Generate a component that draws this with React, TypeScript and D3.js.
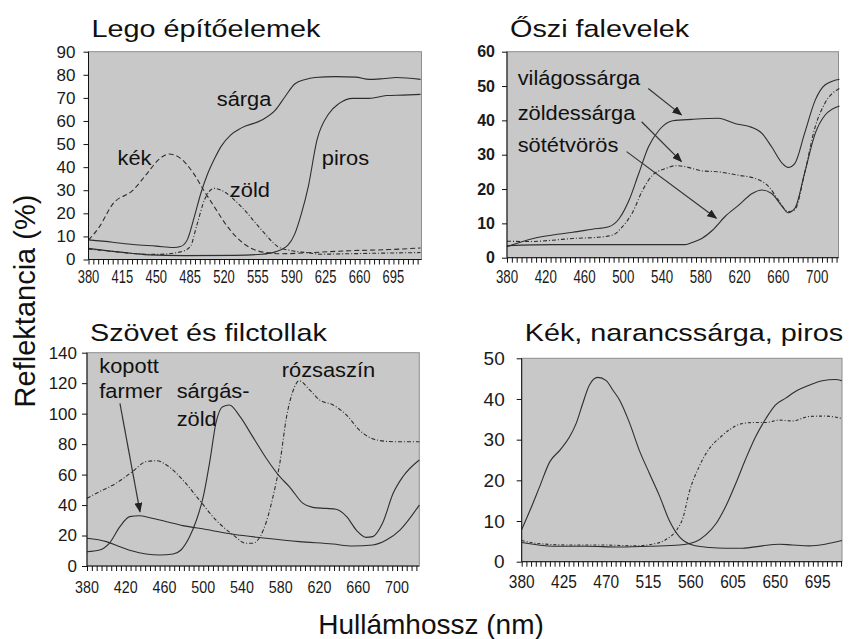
import React, { useRef, useEffect } from "react";
import * as d3 from "d3";

// --- Lego építőelemek ---
const legoSargaNm = [380, 405, 426, 450, 468, 475, 482, 489, 496, 503, 510, 517, 527, 538, 559, 573, 583, 593, 604, 614, 635, 656, 670, 684, 698, 723];
const legoSargaVal = [8.5, 7.5, 6.5, 5.8, 5.2, 5.6, 8.5, 18, 28.6, 37, 43.5, 49, 54, 57, 60.4, 64.7, 70.5, 76, 78, 78.8, 79.2, 79, 78, 78.3, 78.8, 78];
const legoPirosNm = [380, 405, 426, 443, 478, 531, 559, 573, 586, 593, 600, 607, 616, 628, 639, 653, 670, 688, 705, 723];
const legoPirosVal = [4.8, 3.5, 2.6, 2, 1.7, 1.8, 2.3, 3.3, 6.2, 11, 20, 31.5, 51.7, 63, 67.6, 69.8, 69.8, 71, 71.2, 71.5];
const legoKekNm = [380, 391, 405, 426, 440, 454, 463, 475, 489, 499, 510, 524, 538, 559, 580, 610, 650, 690, 723];
const legoKekVal = [8.4, 14, 24, 30, 37, 43.8, 45.7, 43.8, 37, 30, 22.8, 14, 7.7, 3.3, 2.5, 3, 3.8, 4.3, 5];
const legoZoldNm = [380, 405, 426, 450, 475, 485, 492, 500, 510, 517, 538, 559, 576, 590, 605, 620, 650, 690, 723];
const legoZoldVal = [4.5, 3.5, 2.6, 2.2, 3.3, 5.5, 15, 26, 30.8, 30, 22.8, 12.7, 5.5, 3.8, 3, 2.3, 2.5, 2.8, 3];

// --- Őszi falevelek ---
const osziVilagNm = [380, 407, 427, 448, 468, 485, 496, 506, 516, 526, 537, 551, 571, 598, 616, 629, 643, 653, 664, 670, 677, 687, 698, 708, 723];
const osziVilagVal = [3.2, 5.6, 6.6, 7.4, 8.3, 9, 11.5, 16.8, 24.6, 32.3, 37.2, 39.9, 40.3, 40.6, 39, 38.3, 36.2, 32.3, 27.5, 26.3, 27.5, 36.2, 45.9, 50.3, 52];
const osziZoldNm = [380, 403, 427, 448, 472, 489, 499, 509, 520, 530, 544, 554, 564, 581, 598, 619, 636, 650, 660, 670, 677, 687, 698, 708, 723];
const osziZoldVal = [4.8, 4.7, 5.1, 5.6, 5.9, 6.6, 9, 12.9, 19.7, 24, 26, 26.8, 26.5, 25.3, 25, 24, 23.1, 20.7, 16.8, 13.4, 14, 24.6, 38.2, 45, 49.3];
const osziSotetNm = [380, 427, 500, 564, 571, 581, 592, 605, 619, 633, 643, 653, 664, 670, 677, 687, 698, 708, 723];
const osziSotetVal = [3.5, 3.8, 3.8, 3.8, 4.4, 5.6, 8, 12, 15.3, 18.7, 19.7, 18.7, 14.9, 13.1, 14.4, 24.6, 36.2, 41.5, 44.2];

// --- Szövet és filctollak ---
const szovFarmerNm = [380, 393, 403, 414, 424, 434, 445, 462, 479, 503, 531, 565, 599, 634, 654, 675, 689, 703, 723];
const szovFarmerVal = [9.4, 10.5, 14.9, 25.8, 32.4, 33, 31.7, 29.1, 26.5, 24, 20.8, 18.2, 16, 14.4, 13.1, 13.8, 17, 23.6, 40];
const szovSargaNm = [380, 400, 414, 427, 441, 455, 469, 477, 486, 493, 500, 507, 513, 520, 527, 538, 551, 565, 579, 589, 603, 613, 627, 637, 648, 658, 668, 675, 685, 696, 706, 723];
const szovSargaVal = [18.2, 16, 12.7, 9.8, 7.9, 7.2, 7.9, 10.5, 19.3, 30.2, 45.5, 69.6, 93.6, 104.6, 105.7, 98, 84.9, 70.7, 58.6, 52, 41.1, 38.5, 37.8, 37.2, 32.4, 23.6, 18.8, 19.3, 28, 47.7, 58.6, 69.6];
const szovRozsaNm = [380, 393, 410, 427, 441, 452, 462, 479, 496, 513, 531, 544, 551, 562, 572, 579, 586, 593, 599, 610, 620, 634, 648, 661, 679, 696, 723];
const szovRozsaVal = [44.4, 48.8, 54.3, 62, 68.5, 69.1, 66.3, 56.4, 43.3, 30.2, 20.3, 14.9, 14.9, 23.6, 45.5, 67.4, 98, 115.5, 121.6, 115.5, 109, 105.7, 99, 89.3, 82.7, 81.6, 81.6];

// --- Kék, narancssárga, piros ---
const knpKekNm = [380, 389, 399, 410, 421, 431, 438, 445, 452, 461, 470, 477, 484, 495, 505, 516, 527, 537, 548, 562, 580, 597, 615, 636, 654, 668, 686, 703, 721];
const knpKekVal = [7.9, 12.7, 18.4, 24.6, 27.5, 30.7, 34, 38.9, 43.4, 45.3, 44.5, 42.2, 39.8, 34, 27.5, 21.7, 16, 10.2, 6.1, 4.1, 3.5, 3.3, 3.3, 3.9, 4.3, 4.1, 3.9, 4.3, 5.2];
const knpNarancsNm = [380, 396, 431, 466, 502, 519, 534, 545, 552, 558, 569, 580, 590, 601, 612, 626, 640, 654, 668, 686, 703, 721];
const knpNarancsVal = [5.2, 4.5, 4.1, 4.1, 3.9, 4.3, 5.5, 7.8, 11, 16.8, 23.4, 27.9, 30.3, 32.4, 33.8, 34.2, 34.2, 34.8, 34.6, 35.7, 35.8, 35.2];
const knpPirosNm = [380, 414, 449, 484, 519, 548, 565, 576, 587, 597, 608, 618, 629, 640, 650, 661, 671, 686, 700, 714, 721];
const knpPirosVal = [4.7, 3.8, 3.8, 3.6, 3.8, 4.1, 4.9, 6.6, 9.4, 13.5, 19.3, 25, 30.7, 35.2, 38.5, 40.2, 41.8, 43.4, 44.5, 44.8, 44.5];

const FONT = "'Liberation Sans', Arial, Helvetica, sans-serif";
const DASH = "5,3";
const DASHDOT = "4,2,1,2";

const panels = [
  {
    title: "Lego építőelemek",
    box: { left: 88.5, top: 51.7, right: 421.5, bottom: 259.5 },
    xDomain: [380, 724], xLabelStep: 35, xLabelEnd: 695,
    yMax: 90, yStep: 10,
    yFont: { size: 17, weight: "normal", pad: 8 },
    xFont: { size: 18, sx: 0.72, baseline: 283 },
    titleBaseline: 37,
    series: [
      { nm: legoSargaNm, val: legoSargaVal, dash: null },
      { nm: legoPirosNm, val: legoPirosVal, dash: null },
      { nm: legoKekNm, val: legoKekVal, dash: DASH },
      { nm: legoZoldNm, val: legoZoldVal, dash: DASHDOT },
    ],
    labels: [
      { text: "sárga", nm: 512.5, v: 66.4 },
      { text: "kék", nm: 410, v: 40.9 },
      { text: "zöld", nm: 526, v: 27 },
      { text: "piros", nm: 621, v: 40.9 },
    ],
    arrows: [],
  },
  {
    title: "Őszi falevelek",
    box: { left: 507, top: 51.7, right: 838.5, bottom: 257.7 },
    xDomain: [380, 722], xLabelStep: 40, xLabelEnd: 700,
    yMax: 60, yStep: 10,
    yFont: { size: 16, weight: "bold", pad: 7 },
    xFont: { size: 18, sx: 0.74, baseline: 283 },
    titleBaseline: 37,
    series: [
      { nm: osziVilagNm, val: osziVilagVal, dash: null },
      { nm: osziZoldNm, val: osziZoldVal, dash: DASHDOT },
      { nm: osziSotetNm, val: osziSotetVal, dash: null },
    ],
    labels: [
      { text: "világossárga", nm: 391, v: 50.3 },
      { text: "zöldessárga", nm: 391, v: 40.1 },
      { text: "sötétvörös", nm: 391, v: 30.9 },
    ],
    arrows: [
      { from: [525.7, 49.3], to: [560, 41.6] },
      { from: [518.9, 39.6], to: [560, 28] },
      { from: [503.4, 30.9], to: [596, 11.5] },
    ],
  },
  {
    title: "Szövet és filctollak",
    box: { left: 87, top: 352.7, right: 419.3, bottom: 566 },
    xDomain: [380, 723], xLabelStep: 40, xLabelEnd: 700,
    yMax: 140, yStep: 20,
    yFont: { size: 17, weight: "normal", pad: 5 },
    xFont: { size: 17, sx: 0.84, baseline: 593 },
    titleBaseline: 341,
    series: [
      { nm: szovFarmerNm, val: szovFarmerVal, dash: null },
      { nm: szovSargaNm, val: szovSargaVal, dash: null },
      { nm: szovRozsaNm, val: szovRozsaVal, dash: DASHDOT },
    ],
    labels: [
      { text: "kopott", nm: 392.7, v: 126.5 },
      { text: "farmer", nm: 392.7, v: 110 },
      { text: "sárgás-", nm: 472.6, v: 110 },
      { text: "zöld", nm: 472.6, v: 91.9 },
      { text: "rózsaszín", nm: 581, v: 123.8 },
    ],
    arrows: [{ from: [414, 106.8], to: [434.7, 35.6] }],
  },
  {
    title: "Kék, narancssárga, piros",
    box: { left: 521.7, top: 358.3, right: 842, bottom: 561.7 },
    xDomain: [380, 721], xLabelStep: 45, xLabelEnd: 695,
    yMax: 50, yStep: 10,
    yFont: { size: 19, weight: "normal", pad: 12 },
    xFont: { size: 18, sx: 0.86, baseline: 588 },
    titleBaseline: 341,
    series: [
      { nm: knpKekNm, val: knpKekVal, dash: null },
      { nm: knpNarancsNm, val: knpNarancsVal, dash: "3,2,1,2" },
      { nm: knpPirosNm, val: knpPirosVal, dash: null },
    ],
    labels: [],
    arrows: [],
  },
];

const App = () => {
  const svgRef = useRef<SVGSVGElement | null>(null);

  useEffect(() => {
    if (!svgRef.current) return;
    const svg = d3.select(svgRef.current);
    svg.selectAll("*").remove();

    // arrow head
    svg
      .append("defs")
      .append("marker")
      .attr("id", "arrowhead")
      .attr("markerUnits", "userSpaceOnUse")
      .attr("markerWidth", 10)
      .attr("markerHeight", 8)
      .attr("refX", 9)
      .attr("refY", 4)
      .attr("orient", "auto")
      .append("path")
      .attr("d", "M0,0 L10,4 L0,8 z")
      .attr("fill", "#222");

    panels.forEach((p) => {
      const { left, top, right, bottom } = p.box;
      const x = d3.scaleLinear().domain(p.xDomain).range([left, right]);
      const y = d3.scaleLinear().domain([0, p.yMax]).range([bottom, top]);
      const g = svg.append("g");

      // plot background
      g.append("rect")
        .attr("x", left)
        .attr("y", top)
        .attr("width", right - left)
        .attr("height", bottom - top)
        .attr("fill", "#c8c8c8")
        .attr("stroke", "#8e8e8e")
        .attr("stroke-width", 1);

      // curves
      const line = d3
        .line<[number, number]>()
        .x((d) => x(d[0]))
        .y((d) => y(d[1]))
        .curve(d3.curveMonotoneX);

      p.series.forEach((s) => {
        g.append("path")
          .datum(d3.zip(s.nm, s.val) as [number, number][])
          .attr("d", line)
          .attr("fill", "none")
          .attr("stroke", "#2e2e2e")
          .attr("stroke-width", 1.1)
          .attr("stroke-dasharray", s.dash ?? null);
      });

      // Y axis
      g.append("g")
        .attr("transform", `translate(${left},0)`)
        .call(
          d3
            .axisLeft(y)
            .tickValues(d3.range(0, p.yMax + 1, p.yStep))
            .tickSize(5)
            .tickPadding(p.yFont.pad)
            .tickFormat((d) => String(d))
        )
        .call((ax) => ax.select(".domain").attr("stroke", "#111").attr("d", `M0,${top}V${bottom}`))
        .call((ax) => ax.selectAll(".tick line").attr("stroke", "#111"))
        .selectAll("text")
        .style("font-family", FONT)
        .style("font-size", `${p.yFont.size}px`)
        .style("font-weight", p.yFont.weight)
        .style("fill", "#1a1a1a");

      // X axis: minor ticks every 5 nm, labels at the step
      const tickVals = d3.range(380, p.xDomain[1] + 0.1, 5);
      g.append("g")
        .attr("transform", `translate(0,${bottom})`)
        .call(d3.axisBottom(x).tickValues(tickVals).tickSize(5).tickFormat(() => ""))
        .call((ax) => ax.select(".domain").attr("stroke", "#111").attr("d", `M${left},0H${right}`))
        .call((ax) => ax.selectAll(".tick line").attr("stroke", "#111"));

      const labelVals = d3.range(380, p.xLabelEnd + 1, p.xLabelStep);
      g.append("g")
        .selectAll("text")
        .data(labelVals)
        .join("text")
        .attr("transform", (d) => `translate(${x(d)},${p.xFont.baseline}) scale(${p.xFont.sx},1)`)
        .attr("text-anchor", "middle")
        .style("font-family", FONT)
        .style("font-size", `${p.xFont.size}px`)
        .style("fill", "#1a1a1a")
        .text((d) => String(d));

      // title
      g.append("text")
        .attr("transform", `translate(${left + 3},${p.titleBaseline}) scale(1.2,1)`)
        .style("font-family", FONT)
        .style("font-size", "24px")
        .style("fill", "#111")
        .text(p.title);

      // annotations
      g.append("g")
        .selectAll("text")
        .data(p.labels)
        .join("text")
        .attr("transform", (d) => `translate(${x(d.nm)},${y(d.v)}) scale(1.12,1)`)
        .style("font-family", FONT)
        .style("font-size", "19.5px")
        .style("fill", "#111")
        .text((d) => d.text);

      g.append("g")
        .selectAll("line")
        .data(p.arrows)
        .join("line")
        .attr("x1", (d) => x(d.from[0]))
        .attr("y1", (d) => y(d.from[1]))
        .attr("x2", (d) => x(d.to[0]))
        .attr("y2", (d) => y(d.to[1]))
        .attr("stroke", "#333")
        .attr("stroke-width", 1.2)
        .attr("marker-end", "url(#arrowhead)");
    });

    // shared axis titles
    svg
      .append("text")
      .attr("transform", "translate(35,301) rotate(-90)")
      .attr("text-anchor", "middle")
      .style("font-family", FONT)
      .style("font-size", "29px")
      .style("fill", "#111")
      .text("Reflektancia (%)");

    svg
      .append("text")
      .attr("x", 431)
      .attr("y", 634)
      .attr("text-anchor", "middle")
      .style("font-family", FONT)
      .style("font-size", "28px")
      .style("fill", "#111")
      .text("Hullámhossz (nm)");
  }, []);

  return (
    <svg
      ref={svgRef}
      width={853}
      height={639}
      style={{ position: "absolute", left: 0, top: 0, background: "#fff" }}
    />
  );
};

export default App;
